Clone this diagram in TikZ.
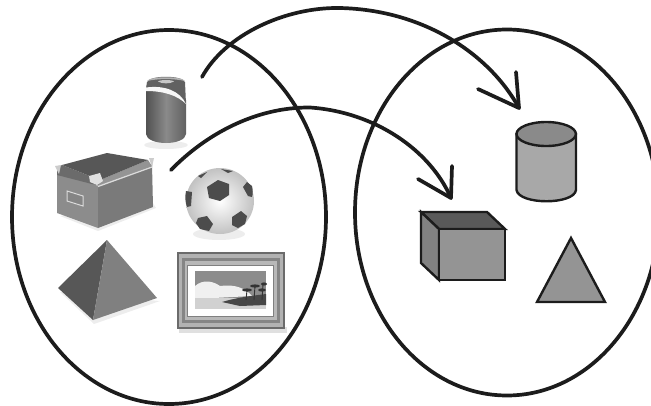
\documentclass[tikz,border=0pt]{standalone}
\usetikzlibrary{calc}
\definecolor{ink}{gray}{0.11}
\tikzset{
  bigline/.style={draw=ink,line width=3.7pt,line cap=round,line join=round},
  shapeline/.style={draw=ink,line width=2.4pt,line join=miter},
  softshadow/.style={fill=black!14,draw=none,opacity=0.5},
}
\begin{document}
\begin{tikzpicture}[x=1pt,y=-1pt]
\useasboundingbox (0,0) rectangle (651,405);
\clip (0,0) rectangle (651,405);
% ---------- can
\fill[softshadow] (166,145) ellipse (22 and 4);
\shade[left color=black!68,right color=black!62,middle color=black!46] (146,90) -- (146,134) .. controls (147,146) and (185,146) .. (186,134) -- (186,100) -- (170,88) -- cycle;
\fill[black!62] (147,82) .. controls (150,75) and (182,75) .. (185,82) -- (186,104) .. controls (178,92) and (160,86) .. (146,88) -- cycle;
\fill[black!30] (147,81) .. controls (150,76) and (182,76) .. (185,81) .. controls (175,78.5) and (157,78.5) .. (147,81) -- cycle;
\fill[black!22] (158,81.5) .. controls (160,79.5) and (172,79.5) .. (174,81.5) .. controls (170,84) and (162,84) .. (158,81.5) -- cycle;
\fill[black!3] (146,87.5) .. controls (165,85) and (180,91) .. (186,104) .. controls (178,96) and (165,91) .. (146,91) -- cycle;
% ---------- cardboard box
\fill[softshadow] (60,216) -- (98,231) -- (156,208) -- (150,198) -- cycle;
\fill[black!45] (57,170) -- (98,186) -- (98,228) -- (57,213) -- cycle;
\fill[black!52] (98,184) -- (152,164) -- (153,207) -- (98,228) -- cycle;
\fill[black!58] (57,168) -- (62,165) -- (100,180) -- (100,186) -- (88,183) -- (57,175) -- cycle;
\fill[black!42] (100,180) -- (148,160) -- (152,166) -- (98,186) -- cycle;
\fill[black!66] (62,165) -- (107,153) -- (148,160) -- (100,180) -- cycle;
\draw[black!14,line width=1.3pt] (98,186.5) -- (152,167);
\fill[black!20] (55,166) -- (61,165) -- (59,174) -- cycle;
\fill[black!12] (89,176) -- (100,173) -- (103,181) -- (97,185) -- (90,182) -- cycle;
\fill[black!20] (149,158) -- (154,158) -- (152,167) -- cycle;
\draw[black!14,fill=black!48,line width=1pt] (67,191) -- (83,196) -- (83,206) -- (67,201) -- cycle;
% ---------- ball
\fill[softshadow] (219,234) ellipse (26 and 6);
\shade[inner color=white,outer color=black!24] (220,201) ellipse (34 and 33);
\fill[black!70] (207,187) -- (218,180) -- (229,184) -- (229,195) -- (220,201) -- (209,198) -- cycle;
\fill[black!70] (186,191) -- (192,192) -- (191,206) -- (187,207) .. controls (185,202) and (185,196) .. (186,191) -- cycle;
\fill[black!70] (247,182) -- (252,186) .. controls (253,190) and (253,194) .. (252,197) -- (248,196) -- (243,187) -- cycle;
\fill[black!70] (198,218) -- (207,216) -- (213,224) -- (209,231) -- (200,229) -- (196,223) -- cycle;
\fill[black!70] (232,217) -- (241,211) -- (247,216) -- (245,224) -- (238,228) -- (232,225) -- cycle;
\fill[black!70] (198,176) -- (207,172) -- (201,178) -- cycle;
\fill[black!70] (221,169) -- (233,171) -- (228,173) -- cycle;
% ---------- pyramid
\fill[softshadow] (60,292) -- (94,324) -- (160,301) -- cycle;
\fill[black!66] (107,240) -- (58,288) -- (93,320) -- cycle;
\fill[black!50] (107,240) -- (157,298) -- (93,320) -- cycle;
% ---------- frame
\fill[black!12] (179,327) rectangle (287,333);
\fill[black!58] (177,252) rectangle (285,329);
\fill[black!30] (179,254) rectangle (283,327);
\fill[black!48] (182,258) rectangle (280,323);
\fill[black!28] (185,261) rectangle (277,320);
\fill[black!50] (187,265) rectangle (274,317);
\fill[white] (188,266) rectangle (273,316);
\fill[black!45] (195,271) rectangle (266,309);
\fill[black!6] (195,286) .. controls (203,279) and (213,281) .. (220,286) .. controls (235,284) and (245,288) .. (252,296) -- (195,299) -- cycle;
\fill[black!18] (195,298) -- (266,298) -- (266,309) -- (195,309) -- cycle;
\fill[black!72] (222,302) .. controls (235,298) and (250,296) .. (266,294) -- (266,305) -- (240,306) -- cycle;
\draw[black!80,line width=0.9pt] (246,300) -- (247,290) (254,300) -- (255,286) (262,300) -- (263,284);
\fill[black!80] (247,290) ellipse (5 and 1.6) (255,286) ellipse (5 and 1.6) (262,290) ellipse (4 and 1.6) (264,284) ellipse (3 and 1.6);
% ---------- ellipses
\draw[bigline] (169,217) ellipse (157 and 187);
\draw[bigline] (507,212.5) ellipse (152 and 183);
% ---------- arrows
\coordinate (s1) at (202,77);
\coordinate (t1) at (519,108);
\coordinate (s2) at (171,170);
\coordinate (t2) at (451,198);
\coordinate (b1a) at (478,89);
\coordinate (b1b) at (516,72);
\coordinate (b2a) at (418,179);
\coordinate (b2b) at (452,166);
\draw[bigline] (s1) .. controls (225,35) and (285,7) .. (340,8) .. controls (425,10) and (490,55) .. (t1);
\draw[bigline] (s2) .. controls (205,135) and (255,107) .. (310,107.5) .. controls (375,112) and (430,150) .. (t2);
\draw[bigline] (b1a) -- (t1) -- (b1b);
\draw[bigline] (b2a) -- (t2) -- (b2b);
% ---------- right cylinder
\path[shapeline,fill=black!34] (516.5,134) -- (516.5,190) .. controls (519,205) and (574,205) .. (576,190) -- (576,134) -- cycle;
\path[shapeline,fill=black!46] (546.2,134) ellipse (29.7 and 12);
% ---------- right cube
\path[shapeline,fill=black!65] (421,212) -- (487,212) -- (505,229) -- (439,229) -- cycle;
\path[shapeline,fill=black!49] (421,212) -- (439,229) -- (439,280) -- (421,263) -- cycle;
\path[shapeline,fill=black!42] (439,229) rectangle (505,280);
% ---------- right triangle
\path[shapeline,fill=black!42] (571,238) -- (537,302) -- (605,302) -- cycle;
\end{tikzpicture}
\end{document}
